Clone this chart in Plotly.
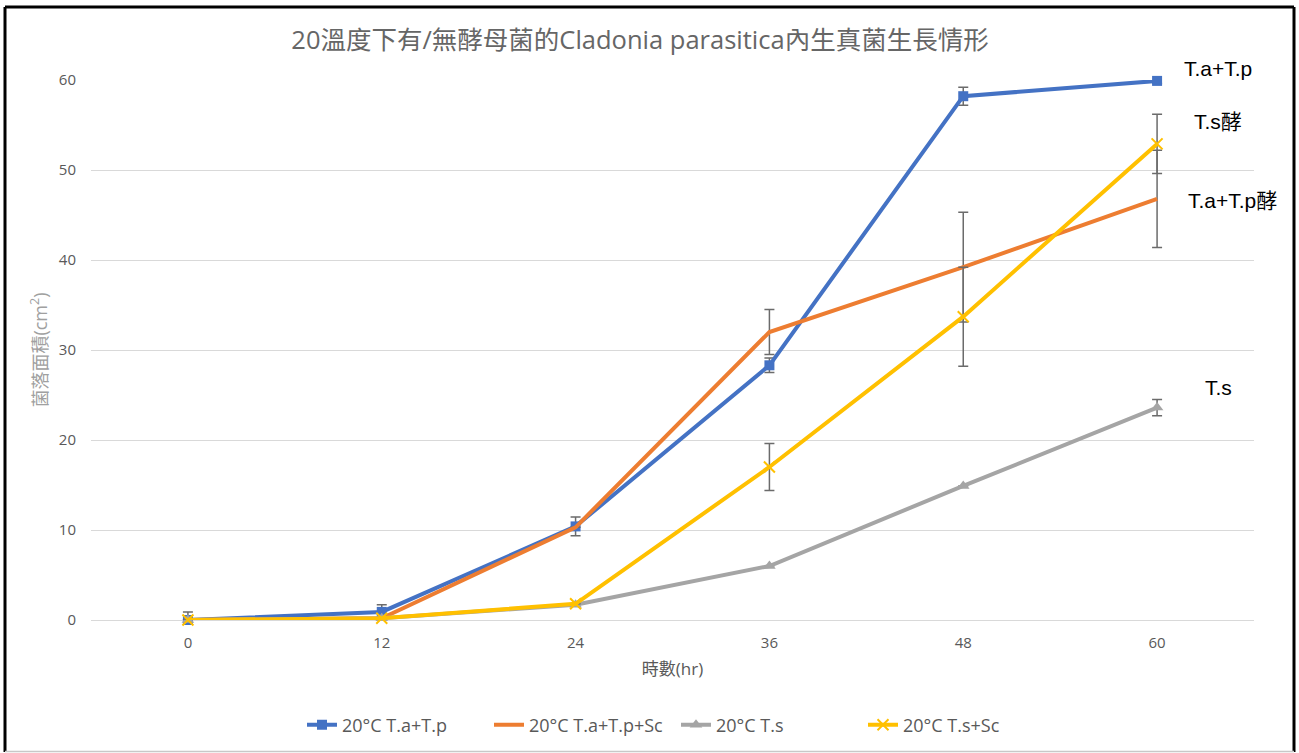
import plotly.graph_objects as go

hours = ["0", "12", "24", "36", "48", "60"]

tatp = [0, 0.9, 10.4, 28.3, 58.2, 59.9]
tatp_err = [0.9, 0.8, 1.05, 0.8, 1.0, 0.3]

tatp_sc = [0, 0.2, 10.3, 32.0, 39.2, 46.8]
tatp_sc_err = [0, 0, 0, 2.5, 6.1, 5.4]

ts = [0, 0.2, 1.7, 6.0, 14.9, 23.6]
ts_err = [0, 0, 0, 0, 0, 0.9]

ts_sc = [0, 0.2, 1.8, 17.0, 33.7, 52.9]
ts_sc_err = [0, 0, 0, 2.6, 5.5, 3.3]

names = ["20°C T.a+T.p", "20°C T.a+T.p+Sc", "20°C T.s", "20°C T.s+Sc"]
colors = ["#4472C4", "#ED7D31", "#A5A5A5", "#FFC000"]
symbols = ["square", None, "triangle-up", "x-thin"]

labels = ["T.a+T.p", "T.s酵", "T.a+T.p酵", "T.s"]
label_py = [68, 122, 200, 387]
label_px = [1218, 1218, 1232, 1218]

title = "20溫度下有/無酵母菌的Cladonia parasitica內生真菌生長情形"
ytitle = "菌落面積(cm<sup>2</sup>)"
xtitle = "時數(hr)"

W, H = 1299, 753
ml, mr, mt, mb = 91, 45, 80, 133
pw, ph = W - ml - mr, H - mt - mb

fig = go.Figure()
series = [(tatp, tatp_err), (tatp_sc, tatp_sc_err), (ts, ts_err), (ts_sc, ts_sc_err)]
for (vals, err), name, col, sym in zip(series, names, colors, symbols):
    marker = dict(color=col, size=10)
    mode = "lines+markers"
    if sym is None:
        mode = "lines"
    else:
        marker["symbol"] = sym
        if sym == "x-thin":
            marker = dict(color=col, size=11, symbol=sym, line=dict(color=col, width=2))
        if sym == "triangle-up":
            marker["size"] = 11
    fig.add_trace(go.Scatter(
        x=hours, y=vals, name=name, mode=mode,
        line=dict(color=col, width=4),
        marker=marker,
        error_y=dict(type="data", array=err, visible=True, color="#6b6b6b",
                     thickness=1.5, width=5),
        cliponaxis=False,
    ))

gray = "#595959"
font_fam = "Open Sans, Noto Sans CJK TC, sans-serif"


def px_x(v):
    return (v - ml) / pw


def px_y(v):
    return (H - mb - v) / ph


fig.update_layout(
    width=W, height=H,
    margin=dict(l=ml, r=mr, t=mt, b=mb),
    paper_bgcolor="white", plot_bgcolor="white",
    font=dict(family=font_fam, color=gray, size=14),
    title=dict(text=title, x=640 / W, xanchor="center", y=1 - 40 / H, yanchor="middle",
               font=dict(size=25.5, color="#666666", family=font_fam)),
    xaxis=dict(type="category", range=[-0.5, 5.5], showgrid=False, showline=False,
               ticks="", zeroline=False, ticklabelstandoff=12,
               tickfont=dict(size=15, color=gray),
               title=dict(text=xtitle, font=dict(size=17, color=gray), standoff=12)),
    yaxis=dict(range=[0, 60], dtick=10, showgrid=True, gridcolor="#d9d9d9", gridwidth=1,
               zeroline=True, zerolinecolor="#d9d9d9", zerolinewidth=1,
               showline=False, ticks="", ticklabelstandoff=14,
               tickfont=dict(size=15, color=gray),
               title=dict(text=ytitle, font=dict(size=18, color="#a0a0a0"), standoff=6)),
    legend=dict(orientation="h", x=676 / W, xref="container", xanchor="center",
                y=1 - 725 / H, yref="container", yanchor="middle",
                entrywidth=142, entrywidthmode="pixels",
                font=dict(size=18, color=gray), tracegroupgap=0),
    showlegend=True,
)

for t, yp, xp in zip(labels, label_py, label_px):
    fig.add_annotation(text=t, xref="paper", x=px_x(xp), yref="paper", y=px_y(yp),
                       showarrow=False, font=dict(size=21, color="black",
                                                  family="Liberation Sans, Arial, Noto Sans CJK TC"),
                       xanchor="center", yanchor="middle")

fig.add_shape(type="line", xref="paper", yref="paper", x0=px_x(5), x1=px_x(1294), y0=px_y(7), y1=px_y(7),
              line=dict(color="black", width=3))
fig.add_shape(type="line", xref="paper", yref="paper", x0=px_x(5), x1=px_x(5), y0=px_y(7), y1=px_y(752),
              line=dict(color="black", width=3))
fig.add_shape(type="line", xref="paper", yref="paper", x0=px_x(1294), x1=px_x(1294), y0=px_y(7), y1=px_y(752),
              line=dict(color="black", width=3))
fig.add_shape(type="line", xref="paper", yref="paper", x0=px_x(5), x1=px_x(1294), y0=px_y(751.5), y1=px_y(751.5),
              line=dict(color="#c8c8c8", width=1.5))

fig.write_html("out.html", config={"displayModeBar": False},
               post_script="document.body.style.margin='0';document.body.style.overflow='hidden';")
